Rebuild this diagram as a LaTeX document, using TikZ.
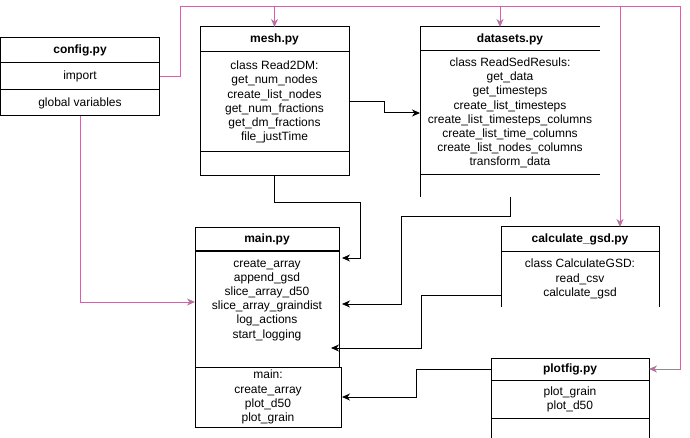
\documentclass[tikz,border=0pt]{standalone}
\usepackage{fontspec}
\setmainfont{Liberation Sans}
\usetikzlibrary{arrows.meta,calc}
\definecolor{linkpink}{HTML}{B5739D}
\newcommand{\boxfont}{\fontsize{12}{14.2}\selectfont}

\begin{document}
\begin{tikzpicture}[
  x=1pt, y=-1pt,
  sect/.style={rectangle, draw, line width=1pt, inner sep=0pt, outer sep=0pt, anchor=north west, align=center},
  ghost/.style={sect, draw=none},
  head/.style={font=\boxfont\bfseries},
  link/.style={draw, line width=1pt, -{Stealth[length=8pt,width=7pt,inset=2.5pt]}},
  plink/.style={link, draw=linkpink, color=linkpink},
  font=\boxfont
]
\useasboundingbox (0,0) rectangle (690,438);

% config.py
\node[sect, head, minimum width=159pt, minimum height=25pt] (cfgtitle) at (0.5,38) {config.py};
\node[sect, minimum width=159pt, minimum height=27pt] (cfgimport) at (cfgtitle.south west) {import};
\node[sect, minimum width=159pt, minimum height=26pt] (cfgglobal) at (cfgimport.south west) {global variables};

% mesh.py
\node[sect, head, minimum width=149pt, minimum height=25pt] (meshtitle) at (200,27) {mesh.py};
\node[sect, minimum width=149pt, minimum height=100pt] (meshbody) at (meshtitle.south west)
  {class Read2DM:\\get\_num\_nodes\\create\_list\_nodes\\get\_num\_fractions\\get\_dm\_fractions\\file\_justTime};
\node[sect, minimum width=149pt, minimum height=24pt] (meshfoot) at (meshbody.south west) {};

% datasets.py (partly drawn)
\node[ghost, head, minimum width=180pt, minimum height=24pt] (dstitle) at (420,27) {datasets.py};
\node[ghost, minimum width=180pt, minimum height=124pt] (dsbody) at (dstitle.south west)
  {class ReadSedResuls:\\get\_data\\get\_timesteps\\create\_list\_timesteps\\create\_list\_timesteps\_columns\\create\_list\_time\_columns\\create\_list\_nodes\_columns\\transform\_data};
\node[ghost, minimum width=180pt, minimum height=22pt] (dsfoot) at (dsbody.south west) {};
\draw[line width=1pt] (dsfoot.south west) -- (dstitle.north west) -- (dstitle.north east);
\draw[line width=1pt] (dsbody.north west) -- (dsbody.north east);
\draw[line width=1pt] (dsbody.south west) -- (dsbody.south east);

% calculate_gsd.py (open bottom)
\node[ghost, head, minimum width=158pt, minimum height=24pt] (calctitle) at (501,227) {calculate\_gsd.py};
\node[ghost, minimum width=158pt, minimum height=56pt] (calcbody) at (calctitle.south west)
  {class CalculateGSD:\\read\_csv\\calculate\_gsd};
\draw[line width=1pt] (calcbody.south west) -- (calctitle.north west) -- (calctitle.north east) -- (calcbody.south east);
\draw[line width=1pt] (calctitle.south west) -- (calctitle.south east);

% main.py
\node[sect, head, minimum width=144pt, minimum height=23pt] (maintitle) at (195,228) {main.py};
\node[sect, minimum width=144pt, minimum height=116pt] (mainbody) at (maintitle.south west) {};
\node[align=center, inner sep=0pt] (maintext) at ([yshift=9pt]mainbody.center)
  {create\_array\\append\_gsd\\slice\_array\_d50\\slice\_array\_graindist\\log\_actions\\start\_logging};
\node[sect, minimum width=146pt, minimum height=60pt] (mainlow) at (mainbody.south west)
  {main:\\create\_array\\plot\_d50\\plot\_grain};

% plotfig.py
\node[sect, head, minimum width=158pt, minimum height=22pt] (pftitle) at (491,358) {plotfig.py};
\node[sect, minimum width=158pt, minimum height=38pt] (pfbody) at (pftitle.south west) {plot\_grain\\plot\_d50};
\node[sect, minimum width=158pt, minimum height=30pt] (pffoot) at (pfbody.south west) {};

% import bus
\coordinate (busL) at (180,7);
\coordinate (busR) at (680,7);
\draw[plink] (cfgimport.east) -| (busL) -- (busR) |- (pftitle.east);
\draw[plink] (meshtitle.north |- busL) -- (meshtitle.north);
\draw[plink] ([xshift=-10pt]dstitle.north |- busL) -- ([xshift=-10pt]dstitle.north);
\draw[plink] ([xshift=40pt]calctitle.north |- busL) -- ([xshift=40pt]calctitle.north);
\draw[plink] (cfgglobal.south) |- ([yshift=7pt]mainbody.west);

% calls into main.py
\draw[link] (meshbody.east) -| ($(meshbody.east)!.5!(dsbody.west)$) |- (dsbody.west);
\draw[link] (meshfoot.south) |- ++(86,27) |- ([xshift=3pt,yshift=51pt]mainbody.east);
\draw[link] (dsfoot.south) |- ++(-109,20) |- ([xshift=3pt,yshift=5pt]mainbody.east);
\draw[link] ([yshift=-16pt]calcbody.west) -- ++(-80,0) |- ([xshift=-8pt,yshift=-39pt]mainbody.east);
\draw[link] (pftitle.west) -- ++(-75,0) |- ([xshift=1pt]mainlow.east);
\end{tikzpicture}
\end{document}
